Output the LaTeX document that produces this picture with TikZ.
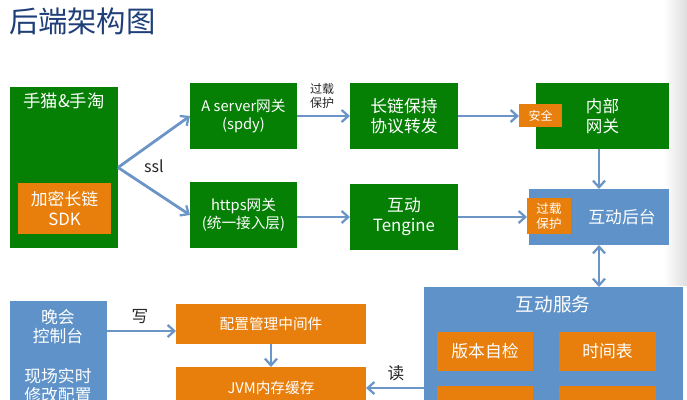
\documentclass[tikz,border=0pt]{standalone}
\usepackage{fontspec}
\setmainfont{Noto Sans CJK SC}
\usetikzlibrary{arrows.meta}
\definecolor{grn}{HTML}{058005}
\definecolor{org}{HTML}{E87F0C}
\definecolor{blu}{HTML}{5E92C8}
\definecolor{arr}{HTML}{6A95C6}
\definecolor{ttl}{HTML}{1F3F78}
\newcommand{\bx}[7]{\node[panel,fill=#2,font=\fontsize{#7}{\dimexpr #7pt*6/5\relax}\selectfont,minimum width={(#5-#3)*0.75pt},minimum height={(#6-#4)*0.75pt}] (#1) at ({(#3+#5)/2},{(#4+#6)/2})}
\tikzset{
  panel/.style={inner sep=0pt,outer sep=0pt,text=white,align=center},
  lbl/.style={inner sep=0pt,outer sep=0pt,text=white,align=center},
  blk/.style={inner sep=0pt,outer sep=0pt,text=black!85,align=center},
  link/.style={draw=arr,line width=2.1pt,-{Straight Barb[length=5pt,width=9pt,line width=1.7pt]}},
  link2/.style={draw=arr,line width=2.1pt,{Straight Barb[length=5pt,width=9pt,line width=1.7pt]}-{Straight Barb[length=5pt,width=9pt,line width=1.7pt]}}
}
\begin{document}
\begin{tikzpicture}[x=0.75pt,y=-0.75pt]
\useasboundingbox (0,0) rectangle (687,400);
\clip (0,0) rectangle (687,400);
\shade[left color=white,right color=black!13] (664,0) rectangle (687,285);
\node[lbl,text=ttl,font=\fontsize{22}{26}\selectfont,anchor=west] (title) at (9,21) {后端架构图};

\bx{hand}{grn}{10}{87}{118}{248}{12}{};
\node[lbl,font=\fontsize{13}{15}\selectfont] (handt) at (64,101) {手猫\&手淘};
\bx{sdk}{org}{18}{183}{111}{234}{12.6}{加密长链\\SDK};

\bx{aserver}{grn}{190}{83}{297}{149}{11}{A server网关\\(spdy)};
\bx{https}{grn}{190}{182}{297}{248}{11}{https网关\\(统一接入层)};
\bx{long}{grn}{350}{83}{458}{149}{12.6}{长链保持\\协议转发};
\bx{teng}{grn}{350}{184}{458}{250}{12.6}{互动\\Tengine};
\bx{inner}{grn}{536}{83}{669}{149}{12.4}{内部\\网关};
\bx{safe}{org}{519}{104}{562}{127}{9}{安全};
\bx{back}{blu}{529}{189}{669}{245}{12.6}{\hspace*{34.5pt}互动后台};
\bx{prot}{org}{527}{198}{571}{234}{9.4}{过载\\保护};

\bx{svc}{blu}{424}{287}{683}{460}{14}{};
\node[lbl,font=\fontsize{14}{16}\selectfont] (svct) at (553,304) {互动服务};
\bx{ver}{org}{437}{332}{533}{371}{12.6}{版本自检};
\bx{sched}{org}{559}{332}{656}{371}{12.6}{时间表};
\bx{lowa}{org}{437}{386}{533}{425}{12.6}{};
\bx{lowb}{org}{559}{386}{656}{425}{12.6}{};

\bx{gala}{blu}{10}{301}{107}{460}{12.6}{};
\node[lbl,font=\fontsize{12.6}{14.4}\selectfont] (galaa) at (58,326.5) {晚会\\控制台};
\node[lbl,font=\fontsize{12.6}{14.4}\selectfont] (galab) at (58,385.5) {现场实时\\修改配置};

\bx{conf}{org}{176}{304}{366}{344}{11}{配置管理中间件};
\bx{jvm}{org}{176}{367}{366}{425}{11}{};
\node[lbl,font=\fontsize{11}{13}\selectfont] (jvmt) at (271,388) {JVM内存缓存};

\node[blk,font=\fontsize{9}{10.8}\selectfont] (guard) at (322,96) {过载\\保护};
\node[blk,font=\fontsize{12}{14}\selectfont] (ssl) at (154,166) {ssl};
\node[blk,font=\fontsize{12.5}{14}\selectfont] (write) at (140,317) {写};
\node[blk,font=\fontsize{12.5}{14}\selectfont] (read) at (396,373) {读};

\coordinate (fork) at (hand.east);
\draw[link] (fork) -- (aserver.west);
\draw[link] (fork) -- (https.west);
\draw[link] (aserver.east) -- (long.west);
\draw[link] (https.east |- teng.west) -- (teng.west);
\draw[link] (long.east) -- (long.east -| safe.west);
\draw[link] (teng.east) -- (teng.east -| prot.west);
\coordinate (drop) at (599,149);
\draw[link] (drop) -- (drop |- back.north);
\coordinate (updown) at (599,245);
\draw[link2] (updown) -- (updown |- svc.north);
\coordinate (wr) at (107,331);
\draw[link] (wr) -- (wr -| conf.west);
\draw[link] (conf.south) -- (jvm.north);
\coordinate (rd) at (424,388);
\draw[link] (rd) -- (rd -| jvm.east);
\end{tikzpicture}
\end{document}
